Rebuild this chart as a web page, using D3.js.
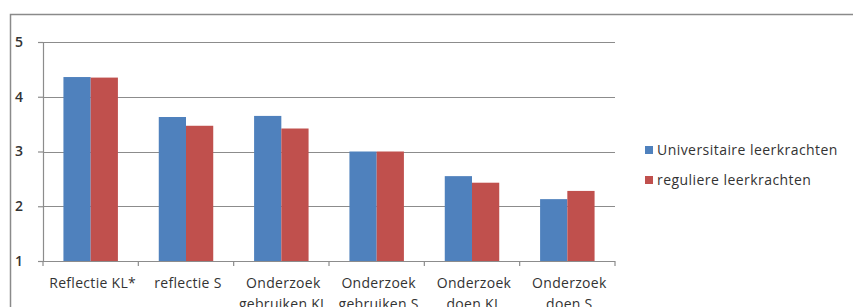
<!DOCTYPE html>
<html>
<head>
<meta charset="utf-8">
<script src="https://cdn.jsdelivr.net/npm/d3@7"></script>
<style>
  body { margin: 0; background: #fff; }
  svg text { font-family: "Open Sans", Lato, sans-serif; fill: #333; }
</style>
</head>
<body>
<div id="chart"></div>
<script>
// categories and series
const categories = [
  ['Reflectie KL*'],
  ['reflectie S'],
  ['Onderzoek', 'gebruiken KL'],
  ['Onderzoek', 'gebruiken S'],
  ['Onderzoek', 'doen KL'],
  ['Onderzoek', 'doen S']
];
const seriesNames = ['Universitaire leerkrachten', 'reguliere leerkrachten'];
const universitair = [4.36, 3.63, 3.65, 3.00, 2.55, 2.13];
const regulier = [4.35, 3.47, 3.42, 3.00, 2.43, 2.28];
const yTicks = [1, 2, 3, 4, 5];

const colors = ['#4f81bd', '#c0504d'];
const width = 853, height = 307;

const svg = d3.select('#chart').append('svg')
    .attr('width', width)
    .attr('height', height);

// outer chart frame
svg.append('path')
    .attr('d', `M10.5,${height} V14.5 H${width}`)
    .attr('fill', 'none')
    .attr('stroke', '#8a8a8a')
    .attr('stroke-width', 1.5);

const plot = {left: 43, right: 615, top: 42, bottom: 261};

const x0 = d3.scaleBand()
    .domain(d3.range(categories.length))
    .range([plot.left, plot.right]);

const x1 = d3.scaleBand()
    .domain([0, 1])
    .range([0, x0.bandwidth()])
    .paddingOuter(0.75)
    .paddingInner(0);

const y = d3.scaleLinear()
    .domain([1, 5])
    .range([plot.bottom, plot.top]);

// gridlines
svg.append('g')
    .selectAll('line')
    .data(yTicks.slice(1))
    .join('line')
    .attr('x1', plot.left)
    .attr('x2', plot.right)
    .attr('y1', d => Math.round(y(d)) + 0.5)
    .attr('y2', d => Math.round(y(d)) + 0.5)
    .attr('stroke', '#8c8c8c')
    .attr('stroke-width', 1.2);

// bars
const rows = categories.map((c, i) => [universitair[i], regulier[i]]);
svg.append('g')
    .selectAll('g')
    .data(rows)
    .join('g')
    .attr('transform', (d, i) => `translate(${x0(i)},0)`)
    .selectAll('rect')
    .data(d => d)
    .join('rect')
    .attr('x', (d, j) => x1(j))
    .attr('width', x1.bandwidth())
    .attr('y', d => y(d))
    .attr('height', d => y(1) - y(d))
    .attr('fill', (d, j) => colors[j]);

// y axis
const yAxis = svg.append('g')
    .attr('transform', `translate(${plot.left},0)`)
    .call(d3.axisLeft(y).tickValues(yTicks).tickSize(5).tickPadding(15).tickFormat(d3.format('d')));
yAxis.selectAll('path, line').attr('stroke', '#8c8c8c').attr('stroke-width', 1.2);
yAxis.selectAll('text')
    .style('font-size', '14px')
    .style('font-weight', '600')
    .attr('fill', '#333');

// x axis with ticks between categories
const xAxis = svg.append('g')
    .attr('transform', `translate(0,${plot.bottom})`);
xAxis.append('line')
    .attr('x1', plot.left).attr('x2', plot.right)
    .attr('y1', 0.5).attr('y2', 0.5)
    .attr('stroke', '#8c8c8c').attr('stroke-width', 1.2);
xAxis.selectAll('line.tick')
    .data(d3.range(categories.length + 1))
    .join('line')
    .attr('class', 'tick')
    .attr('x1', i => plot.left + i * x0.bandwidth())
    .attr('x2', i => plot.left + i * x0.bandwidth())
    .attr('y1', 0).attr('y2', 5)
    .attr('stroke', '#8c8c8c').attr('stroke-width', 1.2);

// category labels; second lines run off the bottom edge like in the source image
xAxis.selectAll('text')
    .data(categories)
    .join('text')
    .attr('text-anchor', 'middle')
    .attr('transform', (d, i) => `translate(${x0(i) + x0.bandwidth() / 2 + 2},27)`)
    .style('font-size', '14px')
    .style('letter-spacing', '0.3px')
    .selectAll('tspan')
    .data(d => d)
    .join('tspan')
    .attr('x', 0)
    .attr('y', (d, k) => k * 21)
    .text(d => d);

// legend
const legend = svg.append('g')
    .attr('transform', 'translate(645,0)');
seriesNames.forEach((name, i) => {
    const yy = 150 + i * 30;
    legend.append('rect')
        .attr('x', 0).attr('y', yy - 4)
        .attr('width', 8).attr('height', 8)
        .attr('fill', colors[i]);
    legend.append('text')
        .attr('x', 12).attr('y', yy + 5)
        .style('font-size', '14px')
        .style('letter-spacing', '0.45px')
        .text(name);
});
</script>
</body>
</html>
